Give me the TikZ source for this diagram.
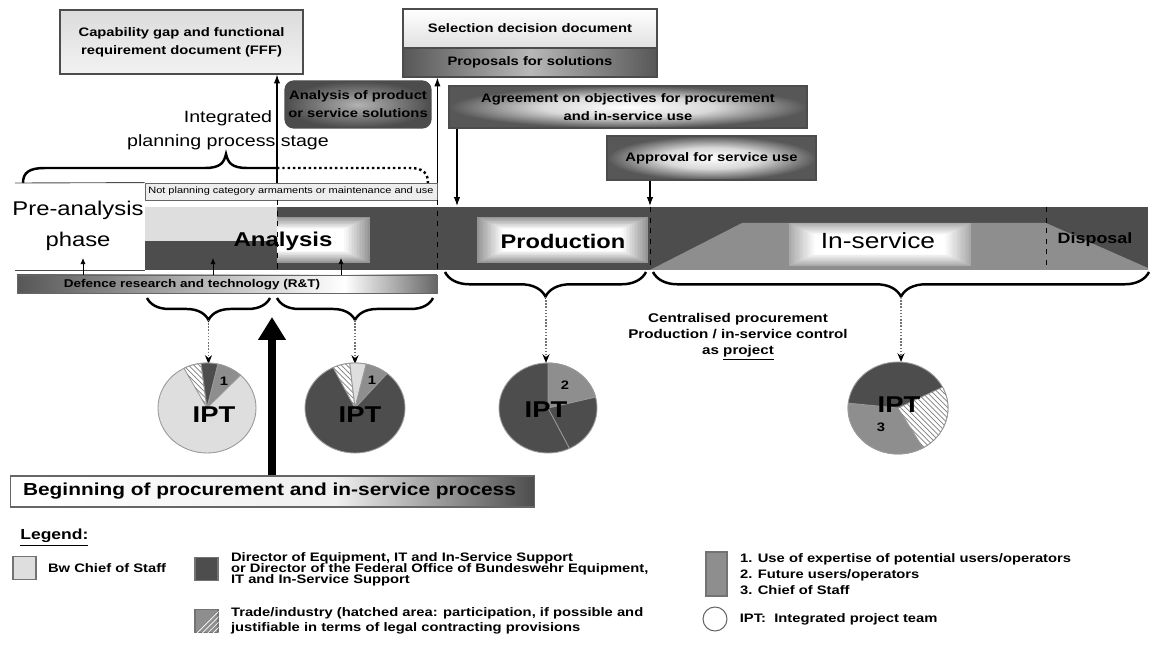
\documentclass[tikz,border=0pt]{standalone}
\usepackage{fontspec}
\setmainfont{Liberation Sans}[FakeStretch=1.2]
\usetikzlibrary{arrows.meta,decorations.pathreplacing,patterns,positioning}

\newcommand{\fsz}[2]{\fontsize{#1}{#2}\selectfont}
\newcommand{\tightlines}{\lineskiplimit=-5pt\relax}

\definecolor{lightgr}{HTML}{DEDEDE}
\definecolor{darkgr}{HTML}{4D4D4D}
\definecolor{midgr}{HTML}{8E8E8E}

% the path covers the middle 50bp of each shading
\pgfdeclareradialshading{boxglow}{\pgfpoint{0bp}{0bp}}{color(0bp)=(white); color(12bp)=(white!85!black); color(25bp)=(black!66); color(50bp)=(black!66)}
\pgfdeclareradialshading{solglow}{\pgfpoint{0bp}{0bp}}{color(0bp)=(black!30); color(25bp)=(black!70); color(50bp)=(black!70)}
\pgfdeclarehorizontalshading{propshade}{100bp}{color(0bp)=(black!66); color(25bp)=(black!66); color(50bp)=(black!28); color(75bp)=(black!66); color(100bp)=(black!66)}
\pgfdeclarehorizontalshading{rtshade}{100bp}{color(0bp)=(black!66); color(25bp)=(black!66); color(64bp)=(white); color(75bp)=(black!60); color(100bp)=(black!60)}
\pgfdeclarehorizontalshading{begshade}{100bp}{color(0bp)=(white); color(25bp)=(white); color(56bp)=(black!6); color(75bp)=(black!70); color(100bp)=(black!70)}

\begin{document}
\begin{tikzpicture}[x=0.02cm, y=-0.02cm,
    docbox/.style={draw=black!70, line width=0.7pt, inner sep=0pt, align=center,
        font=\bfseries\fsz{7}{10.2}},
    bartxt/.style={inner sep=0pt, font=\bfseries\fsz{11.4}{14}},
    legtext/.style={inner sep=0pt, anchor=west, align=left, font=\bfseries\fsz{7}{9}},
    keybox/.style={draw=black!55, line width=0.8pt, inner sep=0pt,
        minimum width=0.46cm, minimum height=0.46cm},
    slice/.style={draw=black!40, line width=0.5pt},
    hatch/.style={slice, fill=white, postaction={pattern=north west lines, pattern color=black!50}},
    ipt/.style={inner sep=0pt, font=\bfseries\fsz{13}{14}},
    pienum/.style={inner sep=0pt, font=\bfseries\fsz{7}{8}},
    thinarrow/.style={line width=0.6pt, -{Latex[length=5pt,width=3.6pt]}},
    dotarrow/.style={black!55, line width=0.8pt, densely dotted, -{Stealth[black,length=5pt,width=4pt]}},
    bracedec/.style={decorate, decoration={brace, amplitude=#1}, line width=1.4pt},
    bigarrow/.style={line width=4.7pt, -{Triangle[length=13pt,width=15pt]}}
]
\useasboundingbox (0,0) rectangle (1152,651);

% documents and decisions above the time line
\node[docbox, top color=black!14, bottom color=black!5, minimum width=4.86cm, minimum height=1.28cm]
    (fff) at (181.5,42) {Capability gap and functional\\requirement document (FFF)};
\node[docbox, top color=white, bottom color=black!12, minimum width=5.08cm, minimum height=0.78cm]
    (sel) at (530,28.5) {Selection decision document};
\node[docbox, shading=propshade, minimum width=5.08cm, minimum height=0.58cm]
    (prop) at (530,62.5) {Proposals for solutions};
\node[docbox, shading=solglow, rounded corners=5pt, minimum width=2.92cm, minimum height=0.94cm]
    (sol) at (358,104.5) {Analysis of product\\or service solutions};
\node[docbox, shading=boxglow, minimum width=7.16cm, minimum height=0.84cm]
    (agree) at (628,107) {Agreement on objectives for procurement\\and in-service use};
\node[docbox, shading=boxglow, minimum width=4.18cm, minimum height=0.88cm]
    (appr) at (711.5,158) {Approval for service use};

\node[inner sep=0pt, align=center, font=\fsz{9.3}{13.6}] (ipp) at (228,130) {Integrated\\planning process stage};

% brace over the planning stage
\draw[line width=1.4pt] (23,183) .. controls (23,172) and (30,168) .. (45,168) -- (205,168)
    .. controls (220,168) and (224,163) .. (226,154) .. controls (228,163) and (232,168) .. (247,168) -- (277,168);
\draw[line width=1.4pt, dash pattern=on 1.4pt off 1.6pt] (277,168) -- (410,168) .. controls (424,168) and (428,174) .. (428,183);

\node[draw=black!60, fill=black!7, line width=0.5pt, inner sep=0pt, minimum width=5.84cm, minimum height=0.34cm,
    font=\fsz{5.2}{6}] (np) at (291,191.5) {Not planning category armaments or maintenance and use};
\draw[black!70, line width=0.5pt] (15,183) -- (np.north west);
\draw[black!70, line width=0.5pt] (15,270) -- (145,270);

% phases
\node[inner sep=0pt, align=center, font=\fsz{11.3}{18}] (pre) at (78,226) {Pre-analysis\\phase};
\fill[darkgr] (145,207) rectangle (1148,270);
\fill[lightgr] (145,207) rectangle (277,241);
\fill[midgr] (650,270) -- (742,223) -- (1046,223) -- (1046,270) -- cycle;
\fill[midgr] (1046,223) -- (1148,268) -- (1148,270) -- (1046,270) -- cycle;
% glows behind the phase names
\begin{scope}
    \clip (277,207) rectangle (437,270);
    \foreach \i [evaluate=\i as \pc using 40+60*\i/16] in {0,...,16}
        \fill[white!\pc!darkgr] (200+1.6*\i,217+0.75*\i) rectangle (370-1.6*\i,263-0.75*\i);
\end{scope}
\foreach \i [evaluate=\i as \pc using 40+60*\i/16] in {0,...,16}
    \fill[white!\pc!darkgr] (477+1.6*\i,217+0.75*\i) rectangle (648-1.6*\i,263-0.75*\i);
\foreach \i [evaluate=\i as \pc using 25+75*\i/16] in {0,...,16}
    \fill[white!\pc!midgr] (789+1.6*\i,223+0.75*\i) rectangle (971-1.6*\i,266-0.75*\i);
\foreach \x in {277,437}
    \draw[dashed, line width=0.5pt] (\x,200) -- (\x,270);
\foreach \x in {650,1046}
    \draw[dashed, line width=0.5pt] (\x,207) -- (\x,270);
\node[bartxt] (ana) at (283,241) {Analysis};
\node[bartxt, font=\bfseries\fsz{11.2}{14}] (prod) at (563,241) {Production};
\node[inner sep=0pt, font=\fsz{12.5}{14}] (insvc) at (878,241) {In-service};
\node[inner sep=0pt, font=\bfseries\fsz{8.5}{10}] (disp) at (1095,240) {Disposal};

% arrows to and from the documents
\coordinate (fffup) at (277,183);
\draw[thinarrow] (fffup) -- (fffup |- fff.south);
\draw[thinarrow] (np.north east) -- (np.north east |- prop.south);
\coordinate (agin) at (457,206);
\draw[thinarrow] (agin |- agree.south) -- (agin);
\coordinate (apin) at (650,206);
\draw[thinarrow] (apin |- appr.south) -- (apin);

% research and technology
\node[draw=black!60, line width=0.5pt, shading=rtshade, minimum width=8.4cm, minimum height=0.36cm] (rt) at (227,284) {};
\node[inner sep=0pt, font=\bfseries\fsz{6.4}{8}] (rttxt) at (192,285) {Defence research and technology (R\&T)};
\foreach \x in {83,213,341}
    \draw[line width=0.5pt, -{Latex[length=3.5pt,width=3pt]}] (\x,275) -- (\x,258);

% braces to the project teams
\draw[bracedec=12.5pt] (270,298) -- (147,298);
\draw[bracedec=12.5pt] (433,298) -- (277,298);
\draw[bracedec=14pt] (646,272) -- (445,272);
\draw[bracedec=14pt] (1149,272) -- (653,272);
\coordinate (b1) at (208.5,320);
\coordinate (b2) at (355,320);
\coordinate (b3) at (546,297);
\coordinate (b4) at (901,297);
\coordinate (t1) at (208.5,364);
\coordinate (t2) at (355,364);
\coordinate (t3) at (546,363);
\coordinate (t4) at (901,362);
\draw[dotarrow] (b1) -- (t1);
\draw[dotarrow] (b2) -- (t2);
\draw[dotarrow] (b3) -- (t3);
\draw[dotarrow] (b4) -- (t4);

% IPT pies
\begin{scope}[shift={(207,408)}, yscale=-1]
    \filldraw[slice, fill=lightgr] (0,0) ellipse[x radius=49, y radius=45];
    \filldraw[hatch] (0,0) -- (97:49 and 45) arc[start angle=97, end angle=118, x radius=49, y radius=45] -- cycle;
    \filldraw[slice, fill=darkgr] (0,0) -- (77:49 and 45) arc[start angle=77, end angle=97, x radius=49, y radius=45] -- cycle;
    \filldraw[slice, fill=midgr] (0,0) -- (47:49 and 45) arc[start angle=47, end angle=77, x radius=49, y radius=45] -- cycle;
    \node[pienum] (n1a) at (17,27) {1};
    \node[ipt] (ipt1) at (7,-7) {IPT};
\end{scope}
\begin{scope}[shift={(355,408)}, yscale=-1]
    \filldraw[slice, fill=darkgr] (0,0) ellipse[x radius=50, y radius=45];
    \filldraw[hatch] (0,0) -- (96:50 and 45) arc[start angle=96, end angle=116, x radius=50, y radius=45] -- cycle;
    \filldraw[slice, fill=lightgr] (0,0) -- (77:50 and 45) arc[start angle=77, end angle=96, x radius=50, y radius=45] -- cycle;
    \filldraw[slice, fill=midgr] (0,0) -- (50:50 and 45) arc[start angle=50, end angle=77, x radius=50, y radius=45] -- cycle;
    \node[pienum] (n1b) at (17,28) {1};
    \node[ipt] (ipt2) at (5,-7) {IPT};
\end{scope}
\begin{scope}[shift={(548,408)}, yscale=-1]
    \filldraw[slice, fill=darkgr] (0,0) ellipse[x radius=49, y radius=45];
    \filldraw[slice, fill=midgr] (0,0) -- (14:49 and 45) arc[start angle=14, end angle=90, x radius=49, y radius=45] -- cycle;
    \draw[slice] (0,0) -- (-64:49 and 45);
    \node[pienum] (n2) at (17,23) {2};
    \node[ipt] (ipt3) at (-2,-2) {IPT};
\end{scope}
\begin{scope}[shift={(898,408)}, yscale=-1]
    \filldraw[slice, fill=darkgr] (0,0) ellipse[x radius=50, y radius=46];
    \filldraw[slice, fill=midgr] (0,0) -- (174:50 and 46) arc[start angle=174, end angle=300, x radius=50, y radius=46] -- cycle;
    \filldraw[hatch] (0,0) -- (300:50 and 46) arc[start angle=300, end angle=387, x radius=50, y radius=46] -- cycle;
    \node[pienum] (n3) at (-17,-19) {3};
    \node[ipt] (ipt4) at (1,3) {IPT};
\end{scope}

\node[inner sep=0pt, align=center, font=\bfseries\fsz{7.2}{9}] (central) at (738,337)
    {Centralised procurement\\Production / in-service control\\as \underline{project}};

% start of the process
\node[draw=black!60, line width=0.6pt, shading=begshade, minimum width=10.5cm, minimum height=0.62cm,
    inner xsep=0.26cm, inner ysep=0pt, text width=9.98cm, align=left, font=\bfseries\fsz{9.9}{12}]
    (beg) at (272.5,491.5) {Beginning of procurement and in-service process};
\coordinate (beghead) at (272,317);
\draw[bigarrow] (beg.north -| beghead) -- (beghead);

% legend
\node[inner sep=0pt, anchor=west, font=\bfseries\fsz{8.3}{10}] (leg) at (20,538) {\underline{Legend:}};
\node[keybox, fill=lightgr] (kbw) at (24.5,568) {};
\node[legtext, right=0.22cm of kbw] (tbw) {Bw Chief of Staff};
\node[keybox, fill=darkgr] (kdir) at (206.5,569) {};
\node[legtext, right=0.24cm of kdir, font={\bfseries\fsz{7}{6.3}\tightlines}] (tdir)
    {Director of Equipment, IT and In-Service Support\\or Director of the Federal Office of Bundeswehr Equipment,\\IT and In-Service Support};
\node[keybox, fill=midgr] (ktrade) at (206.5,621) {};
\fill[pattern=north east lines, pattern color=white] (ktrade.south west) -- (ktrade.south east) -- (ktrade.north east) -- cycle;
\node[legtext, right=0.24cm of ktrade, font=\bfseries\fsz{7}{8.5}] (ttrade)
    {Trade/industry (hatched area: participation, if possible and\\justifiable in terms of legal contracting provisions};
\node[keybox, fill=midgr, minimum width=0.42cm, minimum height=0.88cm] (kuser) at (716.5,574) {};
\node[legtext, right=0.24cm of kuser] (tuser)
    {1. Use of expertise of potential users/operators\\2. Future users/operators\\3. Chief of Staff};
\node[circle, draw=black!60, line width=0.6pt, minimum size=0.48cm, inner sep=0pt] (kipt) at (715,619) {};
\node[legtext, right=0.24cm of kipt] (tipt) {IPT:\ \ Integrated project team};
\end{tikzpicture}
\end{document}
